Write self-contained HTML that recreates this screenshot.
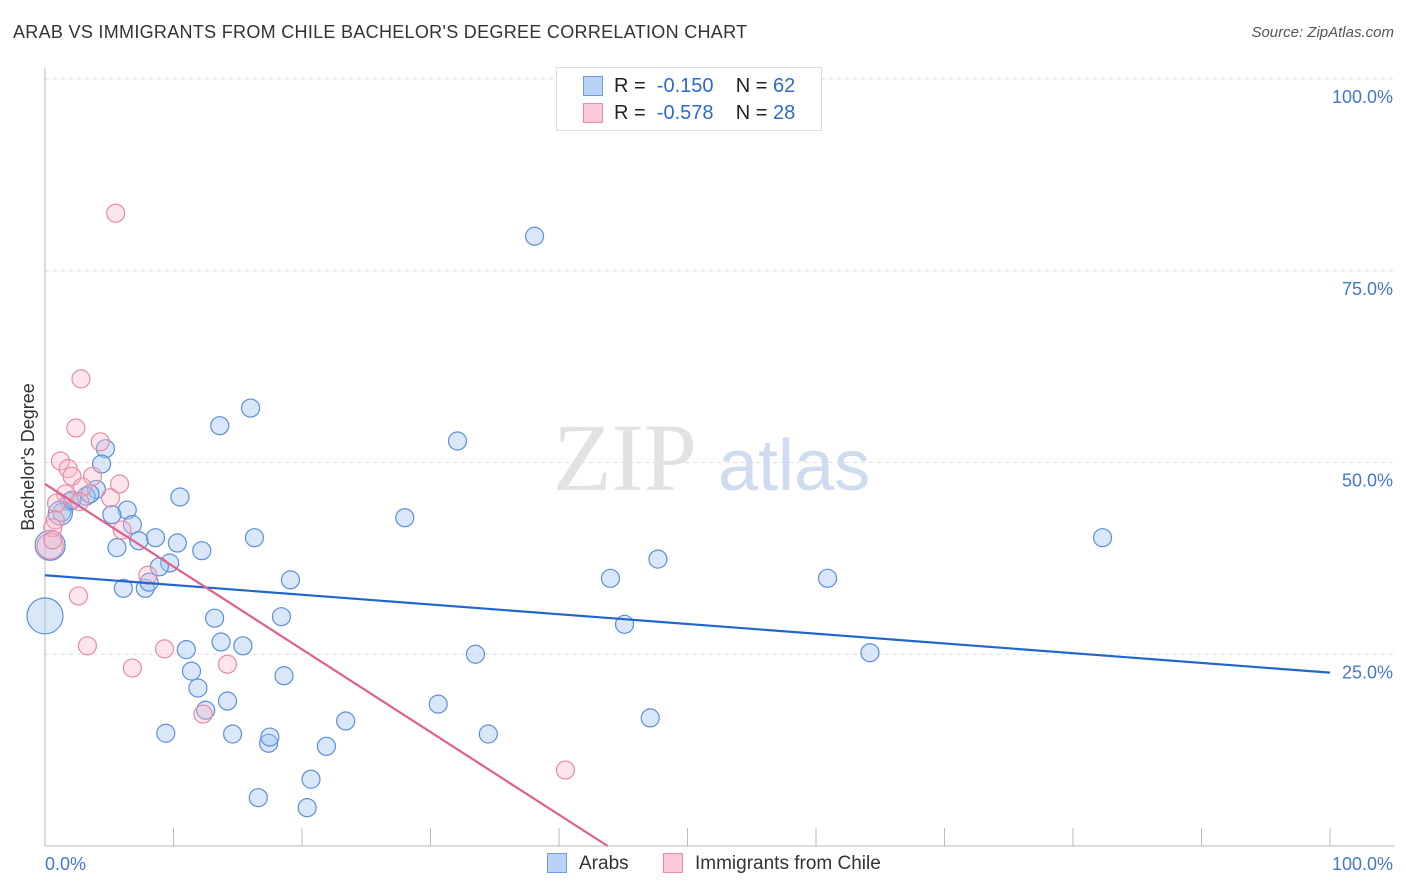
<!DOCTYPE html>
<html><head><meta charset="utf-8">
<style>
body{margin:0;background:#fff;font-family:"Liberation Sans",sans-serif;}
#wrap{position:relative;width:1406px;height:892px;overflow:hidden;}
.t{position:absolute;white-space:nowrap;}
</style></head><body>
<div id="wrap">
<div class="t" style="left:13px;top:22px;font-size:18px;color:#333;letter-spacing:0.3px;">ARAB VS IMMIGRANTS FROM CHILE BACHELOR'S DEGREE CORRELATION CHART</div>
<div class="t" style="right:12px;top:24px;font-size:15px;color:#555;font-style:italic;">Source: ZipAtlas.com</div>
<svg id="svg" width="1406" height="892" style="position:absolute;left:0;top:0"></svg>
</div>
<script>
const blueX=[38.1,16.0,13.6,32.1,4.7,4.4,10.5,4.0,3.2,3.5,1.9,1.3,6.4,5.2,6.8,28.0,16.3,8.6,10.3,7.3,12.2,5.6,9.7,8.9,19.1,44.0,47.7,82.3,60.9,6.1,7.8,8.1,13.2,18.4,45.1,13.7,15.4,11.0,33.5,64.2,11.4,18.6,11.9,14.2,12.5,30.6,23.4,47.1,9.4,14.6,17.4,17.5,34.5,21.9,20.7,16.6,20.4,0.0,0.4,1.2,2.1];
const blueY=[79.5,57.1,54.8,52.8,51.8,49.8,45.5,46.5,45.6,45.9,44.9,43.5,43.8,43.2,41.9,42.8,40.2,40.2,39.5,39.8,38.5,38.9,36.9,36.4,34.7,34.9,37.4,40.2,34.9,33.6,33.6,34.4,29.7,29.9,28.9,26.6,26.1,25.6,25.0,25.2,22.8,22.2,20.6,18.9,17.7,18.5,16.3,16.7,14.7,14.6,13.4,14.2,14.6,13.0,8.7,6.3,5.0,30.0,39.2,43.4,45.1];
const blueR=blueX.map((v,i)=>i==57?18:i==58?15:i==59?12:9);
const pinkX=[5.5,2.8,2.4,4.3,1.2,1.8,2.1,3.7,2.9,1.6,0.9,5.1,5.8,2.7,0.8,0.6,0.4,6.0,8.0,2.6,3.3,9.3,6.8,14.2,12.3,40.5,0.6];
const pinkY=[82.5,60.9,54.5,52.7,50.2,49.2,48.2,48.2,46.8,45.9,44.7,45.4,47.2,44.9,42.5,41.5,39.1,41.2,35.3,32.6,26.1,25.7,23.2,23.7,17.2,9.9,39.9];
const pinkR=pinkX.map((v,i)=>i==16?13:9);
const blueTrend=[35.3,22.6];
const pinkTrend=[47.2,-1.078];
const yTicks=[25,50,75,100];
const yTickLabels=["25.0%","50.0%","75.0%","100.0%"];
const xTicks=[0,10,20,30,40,50,60,70,80,90,100];

const svg=document.getElementById('svg');
const NS='http://www.w3.org/2000/svg';
const sx=v=>45+v*12.85, sy=v=>846-v*7.67;
function mk(tag,attrs){const e=document.createElementNS(NS,tag);for(const k in attrs)e.setAttribute(k,attrs[k]);svg.appendChild(e);return e;}

yTicks.forEach((t,i)=>{
  const g=mk('line',{x1:45,x2:1395,y1:sy(t),y2:sy(t),stroke:'#ddd','stroke-dasharray':'4,4'});
  
  
  const tx=mk('text',{x:1393,y:sy(t)+24,'text-anchor':'end','font-size':18,fill:'#4477cc','font-family':'Liberation Sans'});
  tx.textContent=yTickLabels[i];
  
  
});
const ax=mk('line',{x1:45,x2:1395,y1:846,y2:846,stroke:'#bbb'});


const ay=mk('line',{x1:45,x2:45,y1:68,y2:846,stroke:'#bbb'});


xTicks.forEach(t=>{
  const l=mk('line',{x1:sx(t),x2:sx(t),y1:828,y2:846,stroke:'#bbb'});
  
  
});
const wm=mk('text',{x:553,y:490,'font-size':96,fill:'#e2e2e2','font-family':'Liberation Serif'});
wm.textContent='ZIP';


const wm2=mk('text',{x:718,y:490,'font-size':72,fill:'#cfdcf0','font-family':'Liberation Sans'});
wm2.textContent='atlas';



blueX.forEach((v,i)=>{
  const c=mk('circle',{cx:sx(v),cy:sy(blueY[i]),r:blueR[i],fill:'rgba(160,196,240,0.4)',stroke:'#5b8fd8','stroke-width':1.2});
  
  
});
pinkX.forEach((v,i)=>{
  const c=mk('circle',{cx:sx(v),cy:sy(pinkY[i]),r:pinkR[i],fill:'rgba(246,182,200,0.35)',stroke:'#e98aa6','stroke-width':1.2});
  
  
});
const bl=mk('line',{x1:sx(0),y1:sy(blueTrend[0]),x2:sx(100),y2:sy(blueTrend[1]),stroke:'#2266cc','stroke-width':2.2});


const pEnd=-pinkTrend[0]/pinkTrend[1];
const pl=mk('line',{x1:sx(0),y1:sy(pinkTrend[0]),x2:sx(pEnd),y2:sy(0),stroke:'#e0608a','stroke-width':2.2});



const xl=mk('text',{x:45,y:870,'font-size':18,fill:'#4477cc','font-family':'Liberation Sans'});xl.textContent='0.0%';


const xr=mk('text',{x:1393,y:870,'text-anchor':'end','font-size':18,fill:'#4477cc','font-family':'Liberation Sans'});xr.textContent='100.0%';


const yt=mk('text',{x:0,y:0,'font-size':18,fill:'#333','font-family':'Liberation Sans','text-anchor':'middle',transform:'translate(34,457) rotate(-90)'});yt.textContent="Bachelor's Degree";


</script>
<div class="t" style="left:556px;top:67px;width:264px;height:62px;border:1px solid #ddd;background:#fff;">
 <div class="t" style="left:26px;top:8px;width:20px;height:20px;background:#b8d3f5;border:1px solid #6f9be0;box-sizing:border-box"></div>
 <div class="t" style="left:57px;top:7px;font-size:20px;color:#222">R = &nbsp;<span style="color:#2c6ad0">-0.150</span>&nbsp;&nbsp;&nbsp; N = <span style="color:#2c6ad0">62</span></div>
 <div class="t" style="left:26px;top:35px;width:20px;height:20px;background:#fbc8d6;border:1px solid #e98aa6;box-sizing:border-box"></div>
 <div class="t" style="left:57px;top:34px;font-size:20px;color:#222">R = &nbsp;<span style="color:#2c6ad0">-0.578</span>&nbsp;&nbsp;&nbsp; N = <span style="color:#2c6ad0">28</span></div>
</div>
<div class="t" style="left:547px;top:853px;width:20px;height:20px;background:#b8d3f5;border:1px solid #6f9be0;box-sizing:border-box"></div>
<div class="t" style="left:579px;top:853px;font-size:19px;color:#333">Arabs</div>
<div class="t" style="left:663px;top:853px;width:20px;height:20px;background:#fbc8d6;border:1px solid #e98aa6;box-sizing:border-box"></div>
<div class="t" style="left:695px;top:853px;font-size:19px;color:#333">Immigrants from Chile</div>
</body></html>
